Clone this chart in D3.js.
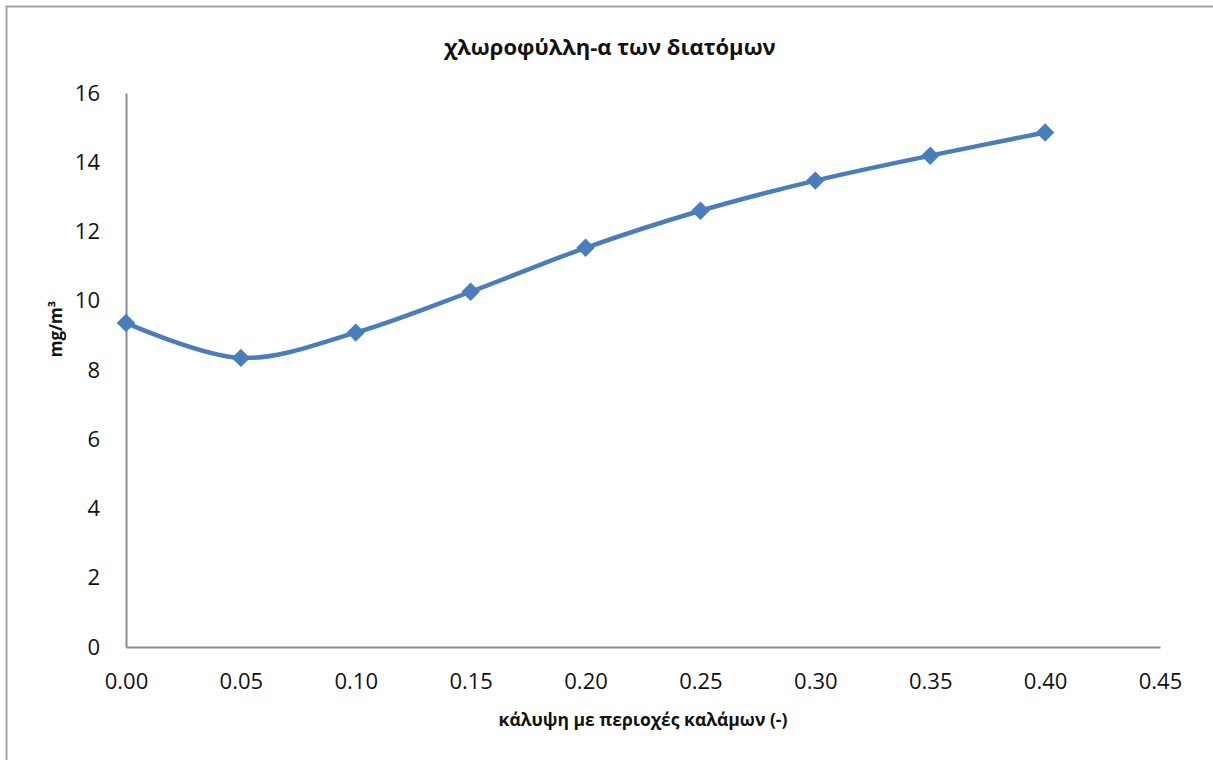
<!DOCTYPE html>
<html><head><meta charset="utf-8">
<script src="https://cdn.jsdelivr.net/npm/d3@7"></script>
<style>body{margin:0;background:#fff}svg{display:block}text{font-family:"Open Sans","Noto Sans",sans-serif;fill:#111}</style>
</head><body><svg id="c" width="1213" height="760"></svg>
<script>
const coverage = [0.00,0.05,0.10,0.15,0.20,0.25,0.30,0.35,0.40];
const chlorophyll = [9.36,8.35,9.08,10.26,11.53,12.6,13.47,14.19,14.86];
const xTicks = [0,0.05,0.10,0.15,0.20,0.25,0.30,0.35,0.40,0.45];
const yTicks = [0,2,4,6,8,10,12,14,16];
const title = "χλωροφύλλη-α των διατόμων";
const xTitle = "κάλυψη με περιοχές καλάμων (-)";
const yTitle = "mg/m³";

const svg = d3.select("#c");
svg.append("rect").attr("x",6.5).attr("y",6.5).attr("width",1230).attr("height",780)
  .attr("fill","none").attr("stroke","#a6a6a6").attr("stroke-width",2);

const x = d3.scaleLinear().domain([0,0.45]).range([126,1160]);
const y = d3.scaleLinear().domain([0,16]).range([647,93]);

const gx = svg.append("g").attr("transform","translate(0,647)")
  .call(d3.axisBottom(x).tickValues(xTicks).tickFormat(d3.format(".2f")).tickSize(0).tickPadding(26));
const gy = svg.append("g").attr("transform","translate(126,0)")
  .call(d3.axisLeft(y).tickValues(yTicks).tickSize(0).tickPadding(26));
[gx,gy].forEach(g=>{
  g.select(".domain").attr("stroke","#8c8c8c").attr("stroke-width",2);
  g.selectAll("text").style("font-size","22px").attr("fill","#111");
});
gx.selectAll("text").attr("dy","0.71em");

const data = coverage.map((c,i)=>[c,chlorophyll[i]]);
const line = d3.line().x(d=>x(d[0])).y(d=>y(d[1])).curve(d3.curveCatmullRom.alpha(0.5));
svg.append("path").datum(data).attr("d",line).attr("fill","none")
  .attr("stroke","#4a7ebb").attr("stroke-width",4.5);
svg.selectAll(".m").data(data).enter().append("path")
  .attr("d",d3.symbol(d3.symbolSquare,170)).attr("transform",d=>`translate(${x(d[0])},${y(d[1])}) rotate(45)`)
  .attr("fill","#4a7ebb");

svg.append("text").attr("x",610).attr("y",55).attr("text-anchor","middle")
  .style("font-size","22px").style("font-weight","bold").text(title);
svg.append("text").attr("x",643).attr("y",726).attr("text-anchor","middle")
  .style("font-size","17.5px").style("font-weight","bold").text(xTitle);
svg.append("text").attr("transform","translate(62,329) rotate(-90)").attr("text-anchor","middle")
  .style("font-size","17px").style("font-weight","bold").text(yTitle);
</script></body></html>
